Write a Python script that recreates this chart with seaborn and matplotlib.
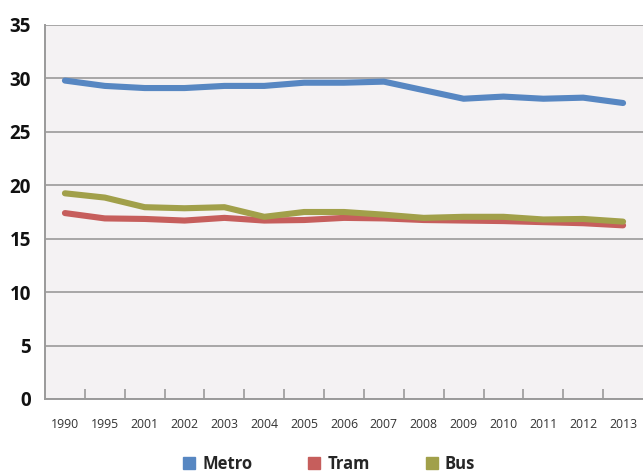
import matplotlib
matplotlib.use("Agg")
import matplotlib.pyplot as plt
from matplotlib.lines import Line2D
import seaborn as sns
import pandas as pd
import numpy as np

years = ["1990", "1995", "2001", "2002", "2003", "2004", "2005", "2006",
         "2007", "2008", "2009", "2010", "2011", "2012", "2013"]
metro = [29.8, 29.3, 29.1, 29.1, 29.3, 29.3, 29.6, 29.6, 29.7, 28.9, 28.1, 28.3, 28.1, 28.2, 27.7]
tram = [17.4, 16.9, 16.85, 16.7, 16.95, 16.7, 16.75, 16.95, 16.9, 16.75, 16.7, 16.65, 16.55, 16.45, 16.25]
bus = [19.25, 18.85, 17.95, 17.85, 17.95, 17.05, 17.5, 17.5, 17.25, 16.95, 17.05, 17.05, 16.8, 16.85, 16.6]
series = ["Metro", "Tram", "Bus"]
colors = ["#5787C2", "#C65E5C", "#A1A04A"]
yticks = [0, 5, 10, 15, 20, 25, 30, 35]

df = pd.DataFrame({
    "year": years * 3,
    "pos": list(range(len(years))) * 3,
    "value": metro + tram + bus,
    "mode": ["Metro"] * len(years) + ["Tram"] * len(years) + ["Bus"] * len(years),
})

sns.set_theme(style="white")
plt.rcParams["font.family"] = ["Open Sans", "DejaVu Sans"]

fig = plt.figure(figsize=(6.43, 4.76), dpi=100)
ax = fig.add_axes([45 / 643, 1 - 399 / 476, 598 / 643, 374 / 476])
ax.set_facecolor("#F4F2F3")

sns.lineplot(data=df, x="pos", y="value", hue="mode", hue_order=series,
             palette=colors, linewidth=4.4, ax=ax, legend=False, zorder=3)

ax.set_xlim(-0.5, len(years) - 0.5)
ax.set_ylim(0, 35)
ax.set_yticks(yticks)
ax.set_yticklabels([str(v) for v in yticks], fontsize=13.5, fontweight="bold", color="#111111")
ax.yaxis.grid(True, color="#9A9A9A", linewidth=1.2, zorder=1)
ax.set_axisbelow(True)

ax.set_xticks(range(len(years)))
ax.set_xticklabels(years, fontsize=8.8, color="#333333")
ax.set_xticks(np.arange(0.5, len(years) - 1, 1.0), minor=True)
ax.tick_params(axis="x", which="major", length=0, pad=14)
ax.tick_params(axis="x", which="minor", length=7, width=1.2, direction="in", color="#9A9A9A", bottom=True)
ax.tick_params(axis="y", length=0, pad=10)
ax.set_xlabel("")
ax.set_ylabel("")

for s in ["top", "right"]:
    ax.spines[s].set_visible(False)
for s in ["left", "bottom"]:
    ax.spines[s].set_color("#9A9A9A")
    ax.spines[s].set_linewidth(1.4)

handles = [Line2D([], [], marker="s", linestyle="none", markersize=8,
                  markerfacecolor=c, markeredgecolor=c) for c in colors]
fig.legend(handles, series, loc="center", bbox_to_anchor=(328 / 643, 1 - 464 / 476),
           ncol=3, frameon=False, prop={"weight": "bold", "size": 12},
           handletextpad=0.3, columnspacing=3.2, handlelength=1.0)

fig.savefig("out.png", dpi=100)
